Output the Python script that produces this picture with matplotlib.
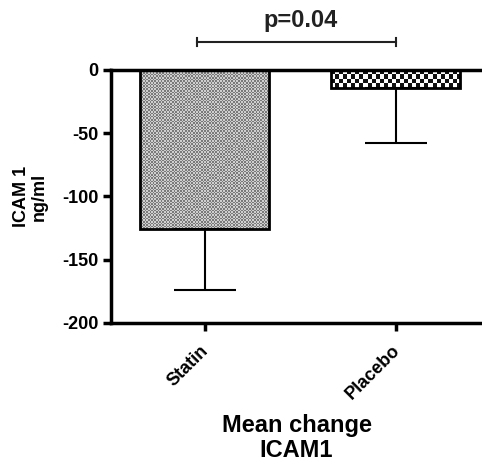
import matplotlib
matplotlib.use("Agg")
import matplotlib.pyplot as plt
import matplotlib.transforms as mtransforms
import numpy as np

plt.rcParams['font.family'] = ['Liberation Sans', 'DejaVu Sans']
plt.rcParams['font.weight'] = 'bold'
plt.rcParams['axes.unicode_minus'] = False

groups = ["Statin", "Placebo"]
means = [-125.7, -14.0]
sem = [48.0, 44.0]
yticks = [0, -50, -100, -150, -200]
p_text = "p=0.04"

fig = plt.figure(figsize=(4.82, 4.70), dpi=100)
ax = fig.add_axes([0.2303, 0.3128, 0.7697, 0.5383])

x = np.arange(len(groups))
bars = ax.bar(x, means, width=0.675, facecolor="none", edgecolor="black",
              linewidth=2.0, zorder=3)

ax.set_xlim(-0.49, 1.45)
ax.set_ylim(-200, 0)


def fill_checker(bar, cell_px, c1, c2):
    # checkerboard texture clipped to the bar
    x0, y0 = bar.get_x(), bar.get_y()
    x1, y1 = x0 + bar.get_width(), y0 + bar.get_height()
    p0 = ax.transData.transform((x0, min(y0, y1)))
    p1 = ax.transData.transform((x1, max(y0, y1)))
    nx = max(1, int(round((p1[0] - p0[0]) / cell_px)))
    ny = max(1, int(round((p1[1] - p0[1]) / cell_px)))
    ii, jj = np.indices((ny, nx))
    img = (ii + jj) % 2
    cmap = matplotlib.colors.ListedColormap([c1, c2])
    ax.imshow(img, cmap=cmap, extent=(x0, x1, min(y0, y1), max(y0, y1)),
              interpolation="nearest", aspect="auto", origin="upper",
              clip_path=bar, zorder=2)


fill_checker(bars[0], 1.6, "#7a7a7a", "#cfcfcf")
fill_checker(bars[1], 4.0, "#111111", "#ffffff")

ax.errorbar(x, means, yerr=[sem, [0, 0]], fmt="none", ecolor="black",
            elinewidth=1.5, capsize=22, capthick=1.5, zorder=4)

ax.set_xlim(-0.49, 1.45)
ax.set_ylim(-200, 0)
ax.set_yticks(yticks)
ax.set_yticklabels([str(v) for v in yticks], fontsize=13, fontweight="bold")
ax.set_xticks(x)
ax.set_xticklabels(groups, rotation=45, ha="right", rotation_mode="anchor",
                   fontsize=13, fontweight="bold")

for s in ["left", "bottom", "top"]:
    ax.spines[s].set_linewidth(2.5)
    ax.spines[s].set_zorder(5)
ax.spines["right"].set_visible(False)
ax.tick_params(axis="both", direction="out", length=6, width=2.5, pad=3)
ax.tick_params(axis="x", pad=8)

# nudge rotated category labels left (after tick_params, which resets transforms)
shift = mtransforms.ScaledTranslation(-5 / 100, 0, fig.dpi_scale_trans)
for tick in ax.xaxis.get_major_ticks():
    tick.label1.set_transform(tick.label1.get_transform() + shift)

ax.set_ylabel("ICAM 1\nng/ml", fontsize=13, fontweight="bold", labelpad=10,
              linespacing=1.1)
ax.set_xlabel("Mean change\nICAM1", fontsize=17, fontweight="bold", labelpad=8,
              linespacing=1.1)

# significance bracket
yb = 22
ax.plot([x[0] - 0.04, x[1]], [yb, yb], color="#222222", lw=1.5, clip_on=False)
ax.plot([x[0] - 0.04] * 2, [yb - 3, yb + 3], color="#222222", lw=1.5, clip_on=False)
ax.plot([x[1]] * 2, [yb - 3, yb + 3], color="#222222", lw=1.5, clip_on=False)
ax.text((x[0] + x[1]) / 2, yb + 8, p_text, ha="center", va="bottom",
        fontsize=17, fontweight="bold", color="#222222")

fig.savefig("out.png", dpi=100)
